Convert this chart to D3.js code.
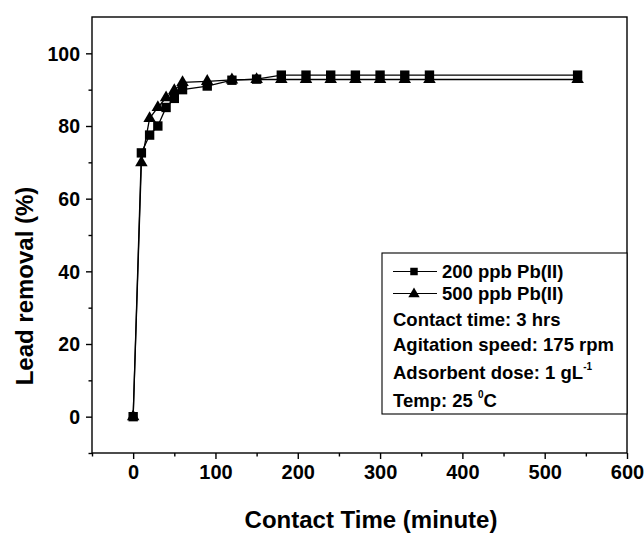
<!DOCTYPE html>
<html><head><meta charset="utf-8">
<script src="https://cdn.jsdelivr.net/npm/d3@7"></script>
<style>
body{margin:0;background:#fff;}
svg{display:block;font-family:"Liberation Sans",Arial,sans-serif;font-weight:bold;}
</style></head>
<body><svg id="c" width="644" height="533"></svg>
<script>
const time = [0,10,20,30,40,50,60,90,120,150,180,210,240,270,300,330,360,540];
const s200 = [0,72.6,77.5,80,85.1,87.6,90,91,92.6,92.9,94,94,94,94,94,94,94,94];
const s500 = [0,69.9,82.1,85.1,87.8,89.8,92,92.3,92.7,92.8,92.8,92.8,92.8,92.8,92.8,92.8,92.8,92.8];
const xMajor = [0,100,200,300,400,500,600];
const xMinor = [-50,50,150,250,350,450,550];
const yMajor = [0,20,40,60,80,100];
const yMinor = [-10,10,30,50,70,90];
const seriesNames = ["200 ppb Pb(II)","500 ppb Pb(II)"];

const svg = d3.select("#c");
const L=92,R=627,T=17,B=453;
const x = d3.scaleLinear().domain([-50,600]).range([L,R]);
const y = d3.scaleLinear().domain([-10,110]).range([B,T]);

svg.append("rect").attr("x",L).attr("y",T).attr("width",R-L).attr("height",B-T)
  .attr("fill","none").attr("stroke","#000").attr("stroke-width",1.4);

const ax = svg.append("g").attr("transform",`translate(0,${B})`)
  .call(d3.axisBottom(x).tickValues(xMajor).tickSize(6).tickPadding(6).tickFormat(d3.format("d")));
const axm = svg.append("g").attr("transform",`translate(0,${B})`)
  .call(d3.axisBottom(x).tickValues(xMinor).tickSize(3.5).tickFormat(""));
const ay = svg.append("g").attr("transform",`translate(${L},0)`)
  .call(d3.axisLeft(y).tickValues(yMajor).tickSize(6).tickPadding(6).tickFormat(d3.format("d")));
const aym = svg.append("g").attr("transform",`translate(${L},0)`)
  .call(d3.axisLeft(y).tickValues(yMinor).tickSize(3.5).tickFormat(""));
[ax,axm,ay,aym].forEach(g=>{
  g.select(".domain").remove();
  g.selectAll("line").attr("stroke","#000").attr("stroke-width",1.4);
  g.selectAll("text").attr("fill","#000").attr("font-family","Liberation Sans, Arial, sans-serif")
    .attr("font-weight","bold");
});
ax.selectAll("text").attr("font-size",20).attr("dy","0.71em");
ay.selectAll("text").attr("font-size",19.5).attr("dy","0.35em");

svg.append("text").attr("x",371).attr("y",528).attr("text-anchor","middle")
  .attr("font-size",24).text("Contact Time (minute)");
svg.append("text").attr("transform","translate(33,286) rotate(-90)").attr("text-anchor","middle")
  .attr("font-size",24).text("Lead removal (%)");

const line = d3.line().x((d,i)=>x(time[i])).y(d=>y(d));
const tri = d3.symbol().type(d3.symbolTriangle).size(68);
const sq = d3.symbol().type(d3.symbolSquare).size(88);

svg.append("path").datum(s500).attr("d",line).attr("fill","none").attr("stroke","#000").attr("stroke-width",1.3);
svg.append("path").datum(s200).attr("d",line).attr("fill","none").attr("stroke","#000").attr("stroke-width",1.3);
svg.append("g").selectAll("path").data(s500).join("path")
  .attr("d",tri).attr("transform",(d,i)=>`translate(${x(time[i])},${y(d)})`).attr("fill","#000");
svg.append("g").selectAll("path").data(s200).join("path")
  .attr("d",sq).attr("transform",(d,i)=>`translate(${x(time[i])},${y(d)})`).attr("fill","#000");

const lg = svg.append("g");
lg.append("rect").attr("x",382).attr("y",253).attr("width",R-382).attr("height",161)
  .attr("fill","#fff").attr("stroke","#000").attr("stroke-width",1.1);
const rows=[271.5,293.5];
[0,1].forEach(i=>{
  lg.append("line").attr("x1",393).attr("x2",437).attr("y1",rows[i]).attr("y2",rows[i]).attr("stroke","#000").attr("stroke-width",1.2);
  lg.append("path").attr("d",i===0?d3.symbol().type(d3.symbolSquare).size(56)():d3.symbol().type(d3.symbolTriangle).size(56)())
    .attr("transform",`translate(414,${rows[i]+(i===1?0.5:0)})`).attr("fill","#000");
  lg.append("text").attr("x",442).attr("y",rows[i]+6.5).attr("font-size",18.5).text(seriesNames[i]);
});
lg.append("text").attr("x",393).attr("y",326).attr("font-size",18.5).text("Contact time: 3 hrs");
lg.append("text").attr("x",393).attr("y",351).attr("font-size",18.5).text("Agitation speed: 175 rpm");
const t5 = lg.append("text").attr("x",393).attr("y",379).attr("font-size",18.5);
t5.append("tspan").text("Adsorbent dose: 1 gL");
t5.append("tspan").attr("font-size",10).attr("dy",-9).text("-1");
const t6 = lg.append("text").attr("x",393).attr("y",406.5).attr("font-size",18.5);
t6.append("tspan").text("Temp: 25 ");
t6.append("tspan").attr("font-size",10).attr("dy",-9).text("0");
t6.append("tspan").attr("dy",9).text("C");
</script></body></html>
